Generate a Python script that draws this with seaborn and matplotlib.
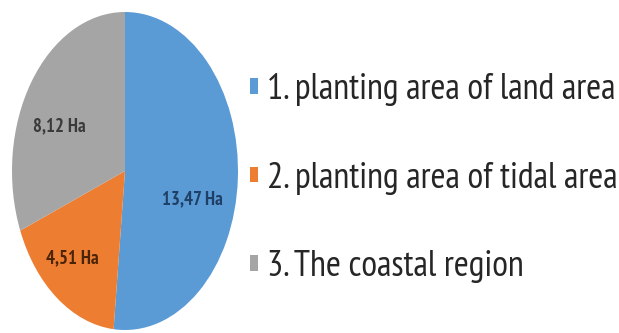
import matplotlib
matplotlib.use("Agg")
import matplotlib.pyplot as plt
import seaborn as sns

categories = ["1. planting area of land area", "2. planting area of tidal area", "3. The coastal region"]
values = [13.47, 4.51, 8.12]
value_labels = ["13,47 Ha", "4,51 Ha", "8,12 Ha"]
colors = ["#5B9BD5", "#ED7D31", "#A5A5A5"]
label_colors = ["#1F3F66", "#4A2308", "#3A3A3A"]

sns.set_theme(style="white")
plt.rcParams["font.family"] = ["PT Sans Narrow", "Liberation Sans", "DejaVu Sans"]

fig = plt.figure(figsize=(6.19, 3.33), dpi=100)
ax = fig.add_axes([12/619, 3/333, 226/619, 318/333])
wedges, _ = ax.pie(values, colors=colors, startangle=90, counterclock=False,
                   wedgeprops=dict(linewidth=0))
ax.set_aspect("auto")
ax.set_xlim(-1, 1)
ax.set_ylim(-1, 1)

pos = [(0.6, -0.18), (-0.47, -0.55), (-0.58, 0.28)]
for (x, y), t, c in zip(pos, value_labels, label_colors):
    ax.text(x, y, t, ha="center", va="center", fontsize=13.5, color=c, fontweight="bold")

fig.legend(wedges, categories, loc="upper left", bbox_to_anchor=(250/619, 1 - 73/333),
           frameon=False, fontsize=26, labelspacing=1.54, handlelength=0.23,
           handleheight=0.28, handletextpad=0.25, labelcolor="#262626",
           borderaxespad=0, borderpad=0)

fig.savefig("out.png", dpi=100, facecolor="white")
